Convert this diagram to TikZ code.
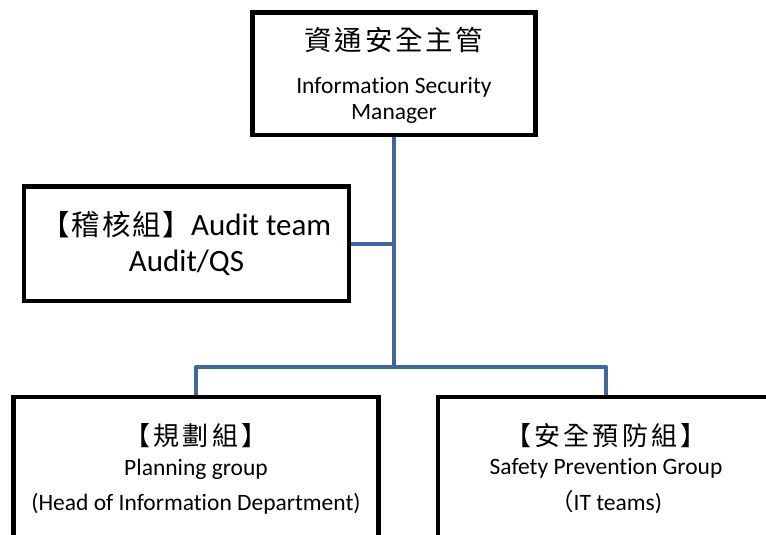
\documentclass[tikz,border=0pt]{standalone}
\usepackage{fontspec}
\usetikzlibrary{backgrounds}
\setmainfont{Carlito}[Ligatures=NoCommon]
\newfontfamily\cjkT[LetterSpace=10]{Noto Sans CJK TC}
\newfontfamily\cjkB[LetterSpace=12]{Noto Sans CJK TC}
\newfontfamily\cjkA[LetterSpace=6]{Noto Sans CJK TC}
\newfontfamily\cjk{Noto Sans CJK TC}
\definecolor{connblue}{RGB}{64,104,156}
\tikzset{
  box/.style={draw=black, line width=4.6pt, fill=white, rectangle, inner sep=0pt, line join=miter},
  conn/.style={draw=connblue, line width=4.2pt, line join=round},
  txt/.style={anchor=base, inner sep=0pt, outer sep=0pt},
  en/.style={font=\fontsize{23.5}{28}\selectfont},
}
\begin{document}
\begin{tikzpicture}[x=1pt, y=-1pt]
\useasboundingbox (0,0) rectangle (766,535);
\clip (0,0) rectangle (766,535);
% boxes
\node[box, minimum width=283pt, minimum height=122.5pt] (top) at (394,73.75) {};
\node[box, minimum width=325pt, minimum height=114.5pt] (audit) at (186.5,243.75) {};
\node[box, minimum width=365.5pt, minimum height=203pt] (left) at (196,498.5) {};
\node[box, minimum width=336pt, minimum height=203pt] (right) at (606,498.5) {};
\coordinate (j) at (394,367);
% connectors behind boxes
\begin{scope}[on background layer]
\draw[conn] (top.south) -- (j);
\draw[conn] (left.north) -- (left.north |- j) -- (right.north |- j) -- (right.north);
\draw[conn] (audit.east) -- (audit.east -| j);
\end{scope}
% texts
\node[txt] (t1) at (394,51) {\fontsize{27.5}{30}\cjkT 資通安全主管};
\node[txt, en] (t2) at (394,94) {Information Security};
\node[txt, en] (t3) at (394,119) {Manager};
\node[txt] (a1) at (186.5,235) {\fontsize{28.5}{32}\selectfont{\cjkA 【稽核組】}\fontsize{31}{34}\selectfont Audit team};
\node[txt, font=\fontsize{31}{34}\selectfont] (a2) at (186.5,271.7) {Audit/QS};
\node[txt] (l1) at (196,445) {\fontsize{26}{30}\cjkB 【規劃組】};
\node[txt, en] (l2) at (196,475) {Planning group};
\node[txt, en] (l3) at (196,510) {(Head of Information Department)};
\node[txt] (r1) at (606,445) {\fontsize{26}{30}\cjkB 【安全預防組】};
\node[txt, en] (r2) at (606,474) {Safety Prevention Group};
\node[txt, en] (r3) at (606,510) {{\cjk （}IT teams)};
\end{tikzpicture}
\end{document}
